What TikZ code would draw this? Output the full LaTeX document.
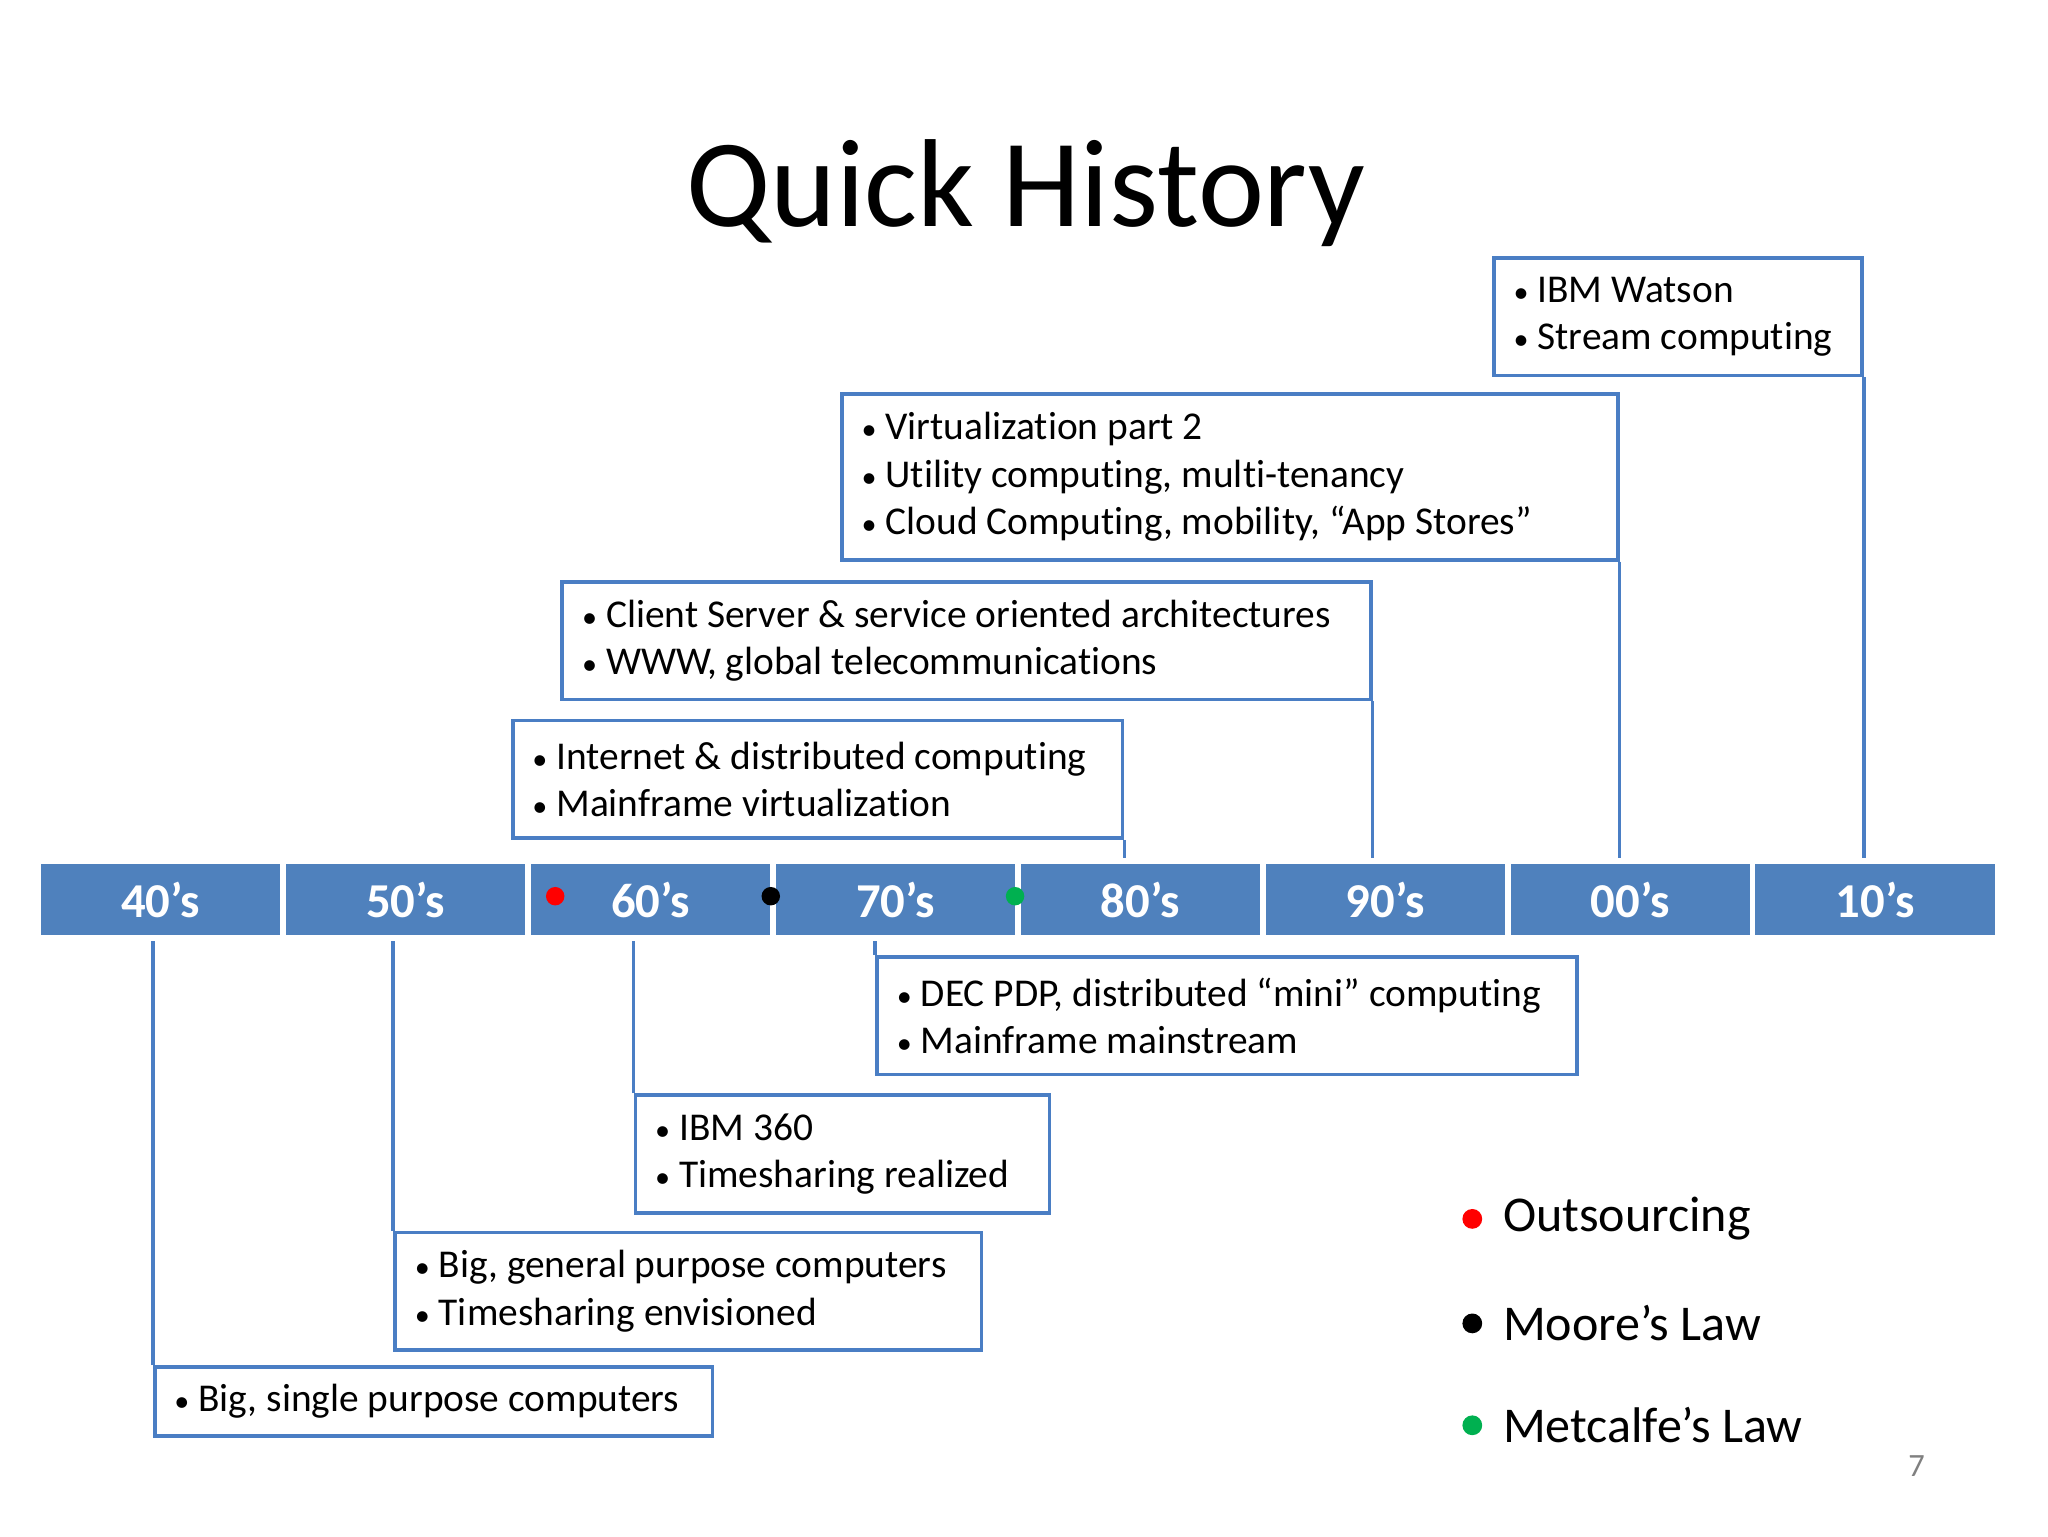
\documentclass[tikz,border=0pt]{standalone}
\usepackage{fontspec}
\setmainfont{Carlito}[Ligatures={NoCommon}]
\definecolor{barblue}{HTML}{4F81BD}
\definecolor{lineblue}{HTML}{4A7EC4}
\definecolor{dgreen}{HTML}{00B050}
\newcommand{\bul}{{\fontsize{6.5pt}{8pt}\selectfont •}\ }
\begin{document}
\begin{tikzpicture}[x=0.0099cm,y=-0.0099cm,
  seg/.style={fill=barblue,draw=white,line width=1.2pt,minimum width=1.856cm,minimum height=0.585cm,anchor=north west,inner sep=0,text=white,font=\fontsize{10.5pt}{12pt}\selectfont\bfseries},
  ibox/.style={draw=lineblue,line width=0.8pt,anchor=north west,inner sep=0,align=left,font=\fontsize{8.5pt}{10.2pt}\selectfont},
  conn/.style={draw=lineblue,line width=0.8pt},
  leg/.style={anchor=west,font=\fontsize{10.8pt}{13pt}\selectfont}]
\useasboundingbox (0,0) rectangle (1567.7,1175.8);
\node (title) at (785,148) {\fontsize{27pt}{32pt}\selectfont Quick History};
\foreach \i/\t in {0/40’s,1/50’s,2/60’s,3/70’s,4/80’s,5/90’s,6/00’s,7/10’s}{
  \node[seg] (s\i) at ({27+187.5*\i},657) {\t};
}
\fill[red] (425,686) circle (0.07cm) coordinate (d1);
\fill[black] (590,686) circle (0.07cm) coordinate (d2);
\fill[dgreen] (777,686) circle (0.07cm) coordinate (d3);
\newcommand{\bx}[6]{\node[ibox,minimum width=#4*0.99cm,minimum height=#5*0.99cm] (#1) at (#2,#3) {\parbox{\dimexpr#4cm*99/100-0.3cm}{#6}};}
\bx{w}{1142}{196}{2.82}{0.90}{\bul IBM Watson\\\bul Stream computing}
\bx{v}{643}{300}{5.94}{1.27}{\bul Virtualization part 2\\\bul Utility computing, multi-tenancy\\\bul Cloud Computing, mobility, “App Stores”}
\bx{c}{429}{444}{6.19}{0.90}{\bul Client Server \& service oriented architectures\\\bul WWW, global telecommunications}
\bx{n}{391}{550}{4.67}{0.90}{\bul Internet \& distributed computing\\\bul Mainframe virtualization}
\bx{d}{670}{731}{5.36}{0.90}{\bul DEC PDP, distributed “mini” computing\\\bul Mainframe mainstream}
\bx{i}{485}{837}{3.17}{0.90}{\bul IBM 360\\\bul Timesharing realized}
\bx{g}{301}{942}{4.49}{0.90}{\bul Big, general purpose computers\\\bul Timesharing envisioned}
\bx{b}{117}{1045}{4.27}{0.53}{\bul Big, single purpose computers}
\draw[conn] (w.south east) -- (w.south east |- s7.north);
\draw[conn] (v.south east) -- (v.south east |- s6.north);
\draw[conn] (c.south east) -- (c.south east |- s5.north);
\draw[conn] (n.south east) -- (n.south east |- s4.north);
\draw[conn] (d.north west) -- (d.north west |- s3.south);
\draw[conn] (i.north west) -- (i.north west |- s2.south);
\draw[conn] (g.north west) -- (g.north west |- s1.south);
\draw[conn] (b.north west) -- (b.north west |- s0.south);
\fill[red] (1127,933) circle (0.075cm);
\node[leg] (l1) at (1138,933) {Outsourcing};
\fill[black] (1127,1013) circle (0.075cm);
\node[leg] (l2) at (1138,1013) {Moore’s Law};
\fill[dgreen] (1127,1091) circle (0.075cm);
\node[leg] (l3) at (1138,1091) {Metcalfe’s Law};
\node[text=gray,font=\fontsize{7pt}{8pt}\selectfont] (pg) at (1467,1122) {7};
\end{tikzpicture}
\end{document}
